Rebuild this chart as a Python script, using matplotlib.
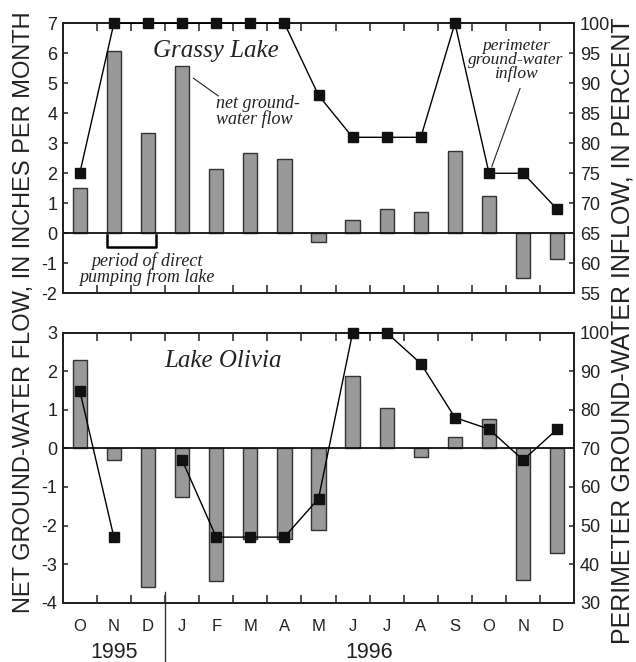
import numpy as np
import matplotlib
matplotlib.use("Agg")
import matplotlib.pyplot as plt
import matplotlib.transforms as mtransforms

#month labels, oct 1995 to dec 1996
months = ["O", "N", "D", "J", "F", "M", "A", "M", "J", "J", "A", "S", "O", "N", "D"]
years = ["1995", "1996"]

#net ground-water flow, inches per month
grassy_flow = [1.5, 6.07, 3.35, 5.57, 2.15, 2.67, 2.47, -0.3, 0.43, 0.8, 0.7, 2.73, 1.25, -1.5, -0.85]
olivia_flow = [2.3, -0.3, -3.6, -1.25, -3.45, -2.35, -2.35, -2.12, 1.88, 1.05, -0.22, 0.3, 0.75, -3.42, -2.7]

#perimeter ground-water inflow, percent
grassy_pct = [75, 100, 100, 100, 100, 100, 100, 88, 81, 81, 81, 100, 75, 75, 69]
olivia_pct = [85, 47, np.nan, 67, 47, 47, 47, 57, 100, 100, 92, 78, 75, 67, 75]

sans = ["Liberation Sans", "DejaVu Sans"]
serif = ["Liberation Serif", "DejaVu Serif"]
plt.rcParams["font.family"] = sans
dark = "#222222"

fig = plt.figure(figsize=(6.36, 6.62), dpi=100)
ax1 = fig.add_axes([0.0986, 0.557, 0.8044, 0.4078])
ax2 = fig.add_axes([0.0986, 0.0896, 0.8044, 0.4078])

x = np.arange(len(months))


def draw_panel(ax, flow, pct, ylim, yticks, plim, pticks):
    ax.bar(x, flow, width=0.42, color="#999999", edgecolor="#333333", linewidth=1.0, zorder=2)
    ax.axhline(0, color="#111111", linewidth=1.3, zorder=3)
    ax.set_xlim(-0.5, len(months) - 0.5)
    ax.set_ylim(*ylim)
    ax.set_yticks(yticks)
    ax.set_yticklabels([str(t) for t in yticks])
    #ticks sit on month boundaries, labels at month centres
    ax.set_xticks(np.arange(0.5, len(months) - 1, 1.0))
    ax.set_xticklabels([])
    ax.tick_params(axis="x", which="major", direction="in", length=5.5, width=1.1,
                   top=True, bottom=True, color=dark)
    ax.tick_params(axis="y", direction="in", length=3.5, width=1.1, color=dark,
                   labelsize=13, pad=4, labelcolor=dark)
    for s in ax.spines.values():
        s.set_linewidth(1.4)
        s.set_color(dark)

    axr = ax.twinx()
    axr.plot(x, pct, color="black", linewidth=1.0, marker="s", markersize=6.5,
             markerfacecolor="#111111", markeredgecolor="#111111", clip_on=False, zorder=4)
    axr.set_ylim(*plim)
    axr.set_yticks(pticks)
    axr.tick_params(axis="y", direction="in", length=3.5, width=1.1, color=dark,
                    labelsize=13, pad=4, labelcolor=dark)
    for s in axr.spines.values():
        s.set_linewidth(1.4)
        s.set_color(dark)
    return axr


draw_panel(ax1, grassy_flow, grassy_pct, (-2, 7), list(range(-2, 8)), (55, 100), list(range(55, 101, 5)))
draw_panel(ax2, olivia_flow, olivia_pct, (-4, 3), list(range(-4, 4)), (30, 100), list(range(30, 101, 10)))

#month letters under the lower panel
ax2.set_xticks(x, minor=True)
ax2.set_xticklabels(months, minor=True)
ax2.tick_params(axis="x", which="minor", length=0, pad=12, labelsize=12, labelcolor=dark)

#year labels and the divider between them
trans = mtransforms.blended_transform_factory(ax2.transData, ax2.transAxes)
ax2.text(1, -0.183, years[0], transform=trans, ha="center", va="center", fontsize=15.5, color=dark)
ax2.text(8.5, -0.183, years[1], transform=trans, ha="center", va="center", fontsize=15.5, color=dark)
ax2.plot([2.5, 2.5], [0.041, -0.25], transform=trans, color="#333333", linewidth=1.0, clip_on=False)

#panel titles
ax1.text(3.98, 5.89, "Grassy Lake", family=serif, style="italic", fontsize=18,
         ha="center", va="baseline", color=dark)
ax2.text(4.19, 2.12, "Lake Olivia", family=serif, style="italic", fontsize=18,
         ha="center", va="baseline", color=dark)

#annotations on the upper panel
ax1.text(3.98, 4.05, "net ground-\nwater flow", family=serif, style="italic", fontsize=13,
         ha="left", va="center", linespacing=0.85, color=dark)
ax1.plot([3.33, 4.06], [5.17, 4.58], color="#222222", linewidth=0.8)
ax1.text(12.78, 5.78, "perimeter\nground-water\ninflow", family=serif, style="italic", fontsize=12.5,
         ha="center", va="center", linespacing=0.85, color=dark)
ax1.plot([12.91, 12.08], [4.83, 2.22], color="#222222", linewidth=0.8)
ax1.text(1.97, -1.19, "period of direct\npumping from lake", family=serif, style="italic", fontsize=13,
         ha="center", va="center", linespacing=0.85, color=dark)
ax1.plot([0.79, 0.79, 2.24, 2.24], [-0.05, -0.45, -0.45, -0.05], color="black", linewidth=1.8)

#axis titles span both panels
fig.text(0.037, 0.528, "NET GROUND-WATER FLOW, IN INCHES PER MONTH", rotation=90,
         ha="center", va="center", fontsize=17, color=dark)
fig.text(0.979, 0.5, "PERIMETER GROUND-WATER INFLOW, IN PERCENT", rotation=90,
         ha="center", va="center", fontsize=18, color=dark)

fig.savefig("out.png", dpi=100)
